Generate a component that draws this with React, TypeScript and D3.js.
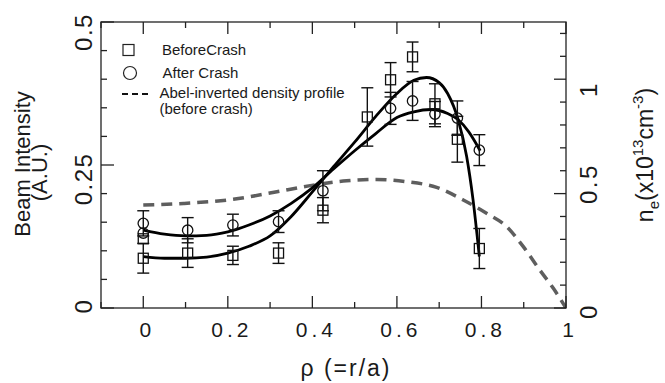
import React from "react";
import * as d3 from "d3";

// ---- data ----
const beforeRho = [0, 0, 0.105, 0.212, 0.32, 0.425, 0.53, 0.585, 0.637, 0.69, 0.743, 0.795];
const beforeVal = [0.121, 0.087, 0.096, 0.092, 0.096, 0.171, 0.334, 0.399, 0.439, 0.357, 0.295, 0.104];
const beforeErr = [0, 0.026, 0.025, 0.016, 0.018, 0.022, 0.051, 0.03, 0.026, 0.035, 0.04, 0.035];

const afterRho = [0, 0, 0.105, 0.212, 0.32, 0.425, 0.585, 0.637, 0.69, 0.743, 0.795];
const afterVal = [0.148, 0.131, 0.136, 0.145, 0.151, 0.205, 0.349, 0.362, 0.339, 0.332, 0.276];
const afterErr = [0.022, 0, 0.022, 0.019, 0.019, 0.035, 0.028, 0.034, 0.022, 0.03, 0.027];

const fitBeforeRho = [0, 0.05, 0.1, 0.15, 0.2, 0.25, 0.3, 0.35, 0.4, 0.45, 0.5, 0.55, 0.6, 0.64, 0.67, 0.7, 0.72, 0.745, 0.765, 0.78, 0.795];
const fitBeforeVal = [0.09, 0.087, 0.087, 0.089, 0.096, 0.108, 0.126, 0.16, 0.203, 0.247, 0.29, 0.335, 0.375, 0.398, 0.403, 0.394, 0.375, 0.329, 0.265, 0.19, 0.09];

const fitAfterRho = [0, 0.05, 0.1, 0.15, 0.2, 0.25, 0.3, 0.35, 0.4, 0.45, 0.5, 0.55, 0.6, 0.64, 0.68, 0.72, 0.745, 0.77, 0.797];
const fitAfterVal = [0.136, 0.129, 0.126, 0.127, 0.133, 0.145, 0.161, 0.183, 0.21, 0.243, 0.275, 0.305, 0.333, 0.343, 0.347, 0.34, 0.329, 0.308, 0.275];

const densRho = [0, 0.095, 0.213, 0.316, 0.402, 0.481, 0.552, 0.623, 0.694, 0.757, 0.812, 0.86, 0.899, 0.938, 0.97, 1.0];
const densVal = [0.45, 0.457, 0.475, 0.508, 0.537, 0.556, 0.562, 0.552, 0.527, 0.472, 0.414, 0.355, 0.268, 0.166, 0.086, 0.0];

const xMajor = [0, 0.2, 0.4, 0.6, 0.8, 1];
const xMinor = [-0.1, 0.1, 0.3, 0.5, 0.7, 0.9];
const yLMajor = [0, 0.25, 0.5];
const yLMinor = [0.05, 0.1, 0.15, 0.2, 0.3, 0.35, 0.4, 0.45];
const yRMajor = [0, 0.5, 1];
const yRMinor = [0.1, 0.2, 0.3, 0.4, 0.6, 0.7, 0.8, 0.9, 1.1, 1.2];

const legendLabels = ["BeforeCrash", "After Crash", "Abel-inverted density profile", "(before crash)"];

const FONT = "'Liberation Sans', Arial, Helvetica, sans-serif";
const INK = "#1a1a1a";

export default function App() {
  const L = 101, R = 566, T = 22, B = 308;
  const x = d3.scaleLinear().domain([-0.1, 1]).range([L, R]);
  const yL = d3.scaleLinear().domain([0, 0.5]).range([B, T]);
  const yR = d3.scaleLinear().domain([0, 1.25]).range([B, T]);

  const lineL = d3.line<[number, number]>().x(d => x(d[0])).y(d => yL(d[1])).curve(d3.curveMonotoneX);
  const lineR = d3.line<[number, number]>().x(d => x(d[0])).y(d => yR(d[1])).curve(d3.curveMonotoneX);

  const fitB = lineL(fitBeforeRho.map((r, i) => [r, fitBeforeVal[i]]))!;
  const fitA = lineL(fitAfterRho.map((r, i) => [r, fitAfterVal[i]]))!;
  const dens = lineR(densRho.map((r, i) => [r, densVal[i]]))!;

  const MAJ = 12, MIN = 6, CAP = 6;

  const errBars = (rho: number[], val: number[], err: number[], key: string) =>
    rho.map((r, i) => {
      if (!err[i]) return null;
      const cx = x(r), y1 = yL(val[i] + err[i]), y2 = yL(val[i] - err[i]);
      return (
        <g key={key + i} stroke="#111" strokeWidth={1.4}>
          <line x1={cx} x2={cx} y1={y1} y2={y2} />
          <line x1={cx - CAP} x2={cx + CAP} y1={y1} y2={y1} />
          <line x1={cx - CAP} x2={cx + CAP} y1={y2} y2={y2} />
        </g>
      );
    });

  const leftLabelOffset: Record<string, number> = { "0": -2, "0.25": 14, "0.5": 10 };
  const rightLabelOffset: Record<string, number> = { "0": 3, "0.5": -10, "1": 10 };

  return (
    <svg width={665} height={383} style={{ display: "block", position: "absolute", left: 0, top: 0 }} fontFamily={FONT}>
      <defs>
        <clipPath id="plotclip">
          <rect x={L} y={T} width={R - L} height={B - T} />
        </clipPath>
      </defs>
      <rect x={0} y={0} width={665} height={383} fill="white" />

      {/* curves */}
      <g clipPath="url(#plotclip)">
        <path d={dens} fill="none" stroke="#5e5e5e" strokeWidth={3.5} strokeDasharray="11 7" />
        <path d={fitB} fill="none" stroke="#000" strokeWidth={2.8} />
        <path d={fitA} fill="none" stroke="#000" strokeWidth={2.8} />
      </g>

      {/* error bars */}
      {errBars(beforeRho, beforeVal, beforeErr, "be")}
      {errBars(afterRho, afterVal, afterErr, "ae")}

      {/* markers */}
      {beforeRho.map((r, i) => (
        <rect key={"bs" + i} x={x(r) - 5} y={yL(beforeVal[i]) - 5} width={10} height={10} fill="none" stroke="#111" strokeWidth={1.3} />
      ))}
      {afterRho.map((r, i) => (
        <circle key={"ac" + i} cx={x(r)} cy={yL(afterVal[i])} r={5.2} fill="none" stroke="#111" strokeWidth={1.3} />
      ))}

      {/* frame */}
      <rect x={L} y={T} width={R - L} height={B - T} fill="none" stroke="#222" strokeWidth={1.3} />

      {/* ticks */}
      <g stroke="#222" strokeWidth={1.3}>
        {xMajor.map(v => (
          <g key={"xm" + v}>
            <line x1={x(v)} x2={x(v)} y1={B} y2={B - MAJ} />
            <line x1={x(v)} x2={x(v)} y1={T} y2={T + MAJ} />
          </g>
        ))}
        {xMinor.map(v => (
          <g key={"xn" + v}>
            <line x1={x(v)} x2={x(v)} y1={B} y2={B - MIN} />
            <line x1={x(v)} x2={x(v)} y1={T} y2={T + MIN} />
          </g>
        ))}
        {yLMajor.map(v => (
          <line key={"ylm" + v} x1={L} x2={L + MAJ + 1} y1={yL(v)} y2={yL(v)} />
        ))}
        {yLMinor.map(v => (
          <line key={"yln" + v} x1={L} x2={L + MIN} y1={yL(v)} y2={yL(v)} />
        ))}
        {yRMajor.map(v => (
          <line key={"yrm" + v} x1={R} x2={R - MAJ} y1={yR(v)} y2={yR(v)} />
        ))}
        {yRMinor.map(v => (
          <line key={"yrn" + v} x1={R} x2={R - MIN} y1={yR(v)} y2={yR(v)} />
        ))}
      </g>

      {/* x tick labels */}
      {xMajor.map(v => (
        <text key={"xl" + v} x={x(v) + 4} y={336.5} fontSize={21} letterSpacing={4} textAnchor="middle" fill={INK}>
          {d3.format("~g")(v)}
        </text>
      ))}

      {/* left tick labels */}
      {yLMajor.map(v => {
        const s = d3.format("~g")(v);
        return (
          <text key={"yll" + v} transform={`translate(91.5, ${yL(v) + leftLabelOffset[s]}) rotate(-90)`} fontSize={24} letterSpacing={1.5} textAnchor="middle" fill={INK}>
            {s}
          </text>
        );
      })}

      {/* right tick labels */}
      {yRMajor.map(v => {
        const s = d3.format("~g")(v);
        return (
          <text key={"yrl" + v} transform={`translate(597, ${yR(v) + rightLabelOffset[s]}) rotate(-90)`} fontSize={24} letterSpacing={2.5} textAnchor="middle" fill={INK}>
            {s}
          </text>
        );
      })}

      {/* axis titles */}
      <text transform="translate(29.5, 164) rotate(-90)" fontSize={22} textAnchor="middle" fill={INK}>Beam Intensity</text>
      <text transform="translate(47, 172.5) rotate(-90)" fontSize={22} textAnchor="middle" fill={INK}>(A.U.)</text>
      <text x={346} y={376} fontSize={23} letterSpacing={2} textAnchor="middle" fill={INK}>ρ  (=r/a)</text>
      <text transform="translate(653, 155) rotate(-90)" fontSize={23} textAnchor="middle" fill={INK}>
        <tspan>n</tspan>
        <tspan fontSize={15} dy={6}>e</tspan>
        <tspan dy={-6}>(x10</tspan>
        <tspan fontSize={15} dy={-10}>13</tspan>
        <tspan dy={10}>cm</tspan>
        <tspan fontSize={15} dy={-10}>-3</tspan>
        <tspan dy={10}>)</tspan>
      </text>

      {/* legend */}
      <rect x={123} y={44.5} width={11} height={11} fill="none" stroke="#222" strokeWidth={1.2} />
      <text x={162} y={55} fontSize={15} fill={INK}>{legendLabels[0]}</text>
      <circle cx={130} cy={73} r={6.5} fill="none" stroke="#222" strokeWidth={1.2} />
      <text x={162.5} y={78} fontSize={15} fill={INK}>{legendLabels[1]}</text>
      <line x1={122} x2={148} y1={94} y2={94} stroke="#111" strokeWidth={2} strokeDasharray="6 4" />
      <text x={159.5} y={97.5} fontSize={15} fill={INK}>{legendLabels[2]}</text>
      <text x={159.5} y={113.5} fontSize={15} fill={INK}>{legendLabels[3]}</text>
    </svg>
  );
}
